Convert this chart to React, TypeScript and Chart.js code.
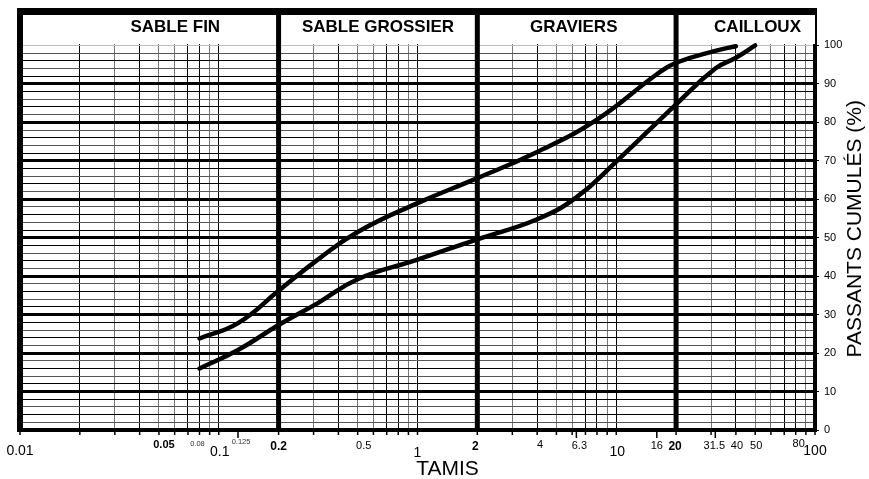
import { useEffect, useRef } from 'react';
import { Chart, registerables } from 'chart.js';

Chart.register(...registerables);

// ---- data ----
const sieveUpper = [0.08, 0.125, 0.2, 0.315, 0.5, 1, 2, 4, 8, 16, 20, 31.5, 40];
const passUpper = [23.8, 27.8, 36.2, 44.3, 51.5, 59, 65.5, 72.3, 80.7, 92.5, 95.5, 98.6, 99.8];

const sieveLower = [0.08, 0.125, 0.2, 0.315, 0.5, 1, 2, 4, 6.3, 10, 20, 31.5, 40, 50];
const passLower = [16, 20.8, 27.3, 33, 39.2, 44.3, 49.6, 54.8, 60.5, 69.8, 84.7, 94, 96.8, 100];

const gridMantissas = [1, 2, 3, 4, 5, 6, 7, 8, 9];
const gridDecades = [0.01, 0.1, 1, 10];
const xGridValues = [...gridDecades.flatMap((d) => gridMantissas.map((m) => +(m * d).toPrecision(3))), 100];
const extraTickValues = [0.125, 6.3, 16, 31.5];

const zoneBounds = [0.2, 2, 20];
const zoneNames = ['SABLE FIN', 'SABLE GROSSIER', 'GRAVIERS', 'CAILLOUX'];

const xLabelValues = [0.01, 0.05, 0.08, 0.1, 0.125, 0.2, 0.5, 1, 2, 4, 6.3, 10, 16, 20, 31.5, 40, 50, 80, 100];
const xLabelTexts = ['0.01', '0.05', '0.08', '0.1', '0.125', '0.2', '0.5', '1', '2', '4', '6.3', '10', '16', '20', '31.5', '40', '50', '80', '100'];

const yGridValues = [0, 2, 4, 6, 8, 10, 12, 14, 16, 18, 20, 22, 24, 26, 28, 30, 32, 34, 36, 38, 40, 42, 44, 46, 48, 50,
  52, 54, 56, 58, 60, 62, 64, 66, 68, 70, 72, 74, 76, 78, 80, 82, 84, 86, 88, 90, 92, 94, 96, 98, 100];
const yLabelStep = 10;

const xTitle = 'TAMIS';
const yTitle = 'PASSANTS CUMULÉS (%)';

// ---- styles ----
const FONT = '"Liberation Sans", Arial, Helvetica, sans-serif';
// label styles: [size, bold, dy from axis bottom, dx]
const labelStyle: Record<string, [number, boolean, number, number]> = {
  '0.01': [14, false, 21, 0],
  '0.05': [11, true, 15, 5],
  '0.08': [7.5, false, 14, -2],
  '0.1': [14, false, 22, 1],
  '0.125': [7.5, false, 12, 3],
  '0.2': [12, true, 17, 0],
  '0.5': [11, false, 16, 6],
  '1': [14, false, 23, 0],
  '2': [12, true, 17, -2],
  '4': [11, false, 15, 3],
  '6.3': [11, false, 16, 3],
  '10': [14, false, 22, 1],
  '16': [11, false, 16, 0],
  '20': [12, true, 17, -1],
  '31.5': [11, false, 16, -1],
  '40': [11, false, 16, 1],
  '50': [11, false, 16, 1],
  '80': [11, false, 14, 3],
  '100': [14, false, 21, 0],
};
const zoneDx = [26, 0, -3, 12];
const grayMantissas = [3, 5, 6, 9];

function mantissa(v: number) {
  const p = Math.pow(10, Math.floor(Math.log10(v) + 1e-9));
  return Math.round(v / p);
}

const gradPlugin = {
  id: 'granulo',
  beforeDatasetsDraw(chart: any) {
    const { ctx, chartArea: a, scales } = chart;
    const x = scales.x;
    const y = scales.y;
    const y100 = y.getPixelForValue(100);
    ctx.save();
    ctx.fillStyle = '#ffffff';
    ctx.fillRect(a.left, a.top, a.right - a.left, Math.floor(y100) - 1 - a.top);
    ctx.strokeStyle = '#000';
    ctx.lineWidth = 5;
    for (const v of zoneBounds) {
      const px = x.getPixelForValue(v);
      ctx.beginPath();
      ctx.moveTo(px, a.top);
      ctx.lineTo(px, a.bottom);
      ctx.stroke();
    }
    ctx.restore();
  },
  afterDraw(chart: any) {
    const { ctx, chartArea: a, scales } = chart;
    const x = scales.x;
    ctx.save();
    ctx.strokeStyle = '#000';
    // left and top frame
    ctx.lineWidth = 6;
    ctx.beginPath();
    ctx.moveTo(a.left, a.top - 3.5);
    ctx.lineTo(a.left, a.bottom + 2);
    ctx.stroke();
    ctx.lineWidth = 7;
    ctx.beginPath();
    ctx.moveTo(a.left - 3, a.top);
    ctx.lineTo(a.right + 2, a.top);
    ctx.stroke();

    // zone names
    ctx.fillStyle = '#000';
    ctx.textAlign = 'center';
    ctx.textBaseline = 'middle';
    ctx.font = `bold 17px ${FONT}`;
    const bounds = [x.min, ...zoneBounds, x.max].map((v: number) => x.getPixelForValue(v));
    zoneNames.forEach((name, i) => {
      const cx = (bounds[i] + bounds[i + 1]) / 2 + zoneDx[i];
      ctx.fillText(name, cx, a.top + 16);
    });

    // x tick marks
    ctx.lineWidth = 1.5;
    for (const v of xGridValues) {
      const px = x.getPixelForValue(v);
      ctx.beginPath();
      ctx.moveTo(px, a.bottom + 2);
      ctx.lineTo(px, a.bottom + 5);
      ctx.stroke();
    }
    for (const v of extraTickValues) {
      const px = x.getPixelForValue(v);
      ctx.beginPath();
      ctx.moveTo(px, a.bottom + 2);
      ctx.lineTo(px, a.bottom + 8);
      ctx.stroke();
    }

    // x labels
    xLabelValues.forEach((v, i) => {
      const t = xLabelTexts[i];
      const [size, bold, dy, dx] = labelStyle[t] || [11, false, 16, 0];
      ctx.font = `${bold ? 'bold ' : ''}${size}px ${FONT}`;
      ctx.fillStyle = size < 9 ? '#333' : '#000';
      ctx.fillText(t, x.getPixelForValue(v) + dx, a.bottom + dy);
    });

    // titles
    ctx.fillStyle = '#000';
    ctx.font = `21px ${FONT}`;
    ctx.fillText(xTitle, (a.left + a.right) / 2 + 30, a.bottom + 39);
    ctx.translate(a.right + 40, (a.top + a.bottom) / 2 + 8);
    ctx.rotate(-Math.PI / 2);
    ctx.fillText(yTitle, 0, 0);
    ctx.restore();
  },
};

export default function App() {
  const ref = useRef<HTMLCanvasElement>(null);
  useEffect(() => {
    if (!ref.current) return;
    const lineStyle = {
      showLine: true,
      borderColor: '#000',
      borderWidth: 4.5,
      pointRadius: 0,
      tension: 0.45,
      borderCapStyle: 'round',
      borderJoinStyle: 'round',
    };
    const chart = new Chart(ref.current, {
      type: 'scatter',
      data: {
        datasets: [
          { label: 'upper', data: sieveUpper.map((s, i) => ({ x: s, y: passUpper[i] })), ...lineStyle },
          { label: 'lower', data: sieveLower.map((s, i) => ({ x: s, y: passLower[i] })), ...lineStyle },
        ],
      },
      options: {
        animation: false,
        responsive: false,
        layout: { padding: { left: 20, top: 11, right: 0, bottom: 0 } },
        plugins: { legend: { display: false }, tooltip: { enabled: false } },
        scales: {
          x: {
            type: 'logarithmic',
            min: 0.01,
            max: 100,
            afterBuildTicks: (s: any) => {
              s.ticks = xGridValues.map((v) => ({ value: v }));
            },
            afterFit: (s: any) => {
              s.height = 49;
            },
            ticks: { display: false },
            grid: {
              drawTicks: false,
              lineWidth: 1,
              color: (c: any) => (grayMantissas.includes(mantissa(c.tick.value)) ? '#777' : '#000'),
            },
            border: { display: true, color: '#000', width: 4 },
          },
          y: {
            type: 'linear',
            position: 'right',
            min: 0,
            max: 108.8,
            afterBuildTicks: (s: any) => {
              s.ticks = yGridValues.map((v) => ({ value: v }));
            },
            afterFit: (s: any) => {
              s.width = 54;
            },
            ticks: {
              autoSkip: false,
              padding: 5,
              color: '#000',
              font: { family: FONT, size: 11 },
              callback: (v: any) => (Number(v) % yLabelStep === 0 ? String(v) : ''),
            },
            grid: {
              tickLength: 4,
              lineWidth: (c: any) => {
                const v = c.tick.value;
                if (v === 100) return 1;
                return v % 10 === 0 ? 3 : 1;
              },
              color: (c: any) => {
                const v = c.tick.value;
                if (v === 100) return '#bdbdbd';
                if (v % 10 === 0) return '#000';
                return v % 4 === 0 ? '#000' : '#555';
              },
              tickColor: (c: any) => (c.tick.value % 10 === 0 ? '#000' : 'rgba(0,0,0,0)'),
              tickWidth: 1,
            },
            border: { display: true, color: '#000', width: 4 },
          },
        },
      },
      plugins: [gradPlugin],
    } as any);
    return () => chart.destroy();
  }, []);
  return (
    <div style={{ position: 'absolute', left: 0, top: 0, width: 869, height: 479, background: '#fff' }}>
      <canvas ref={ref} width={869} height={479} />
    </div>
  );
}
